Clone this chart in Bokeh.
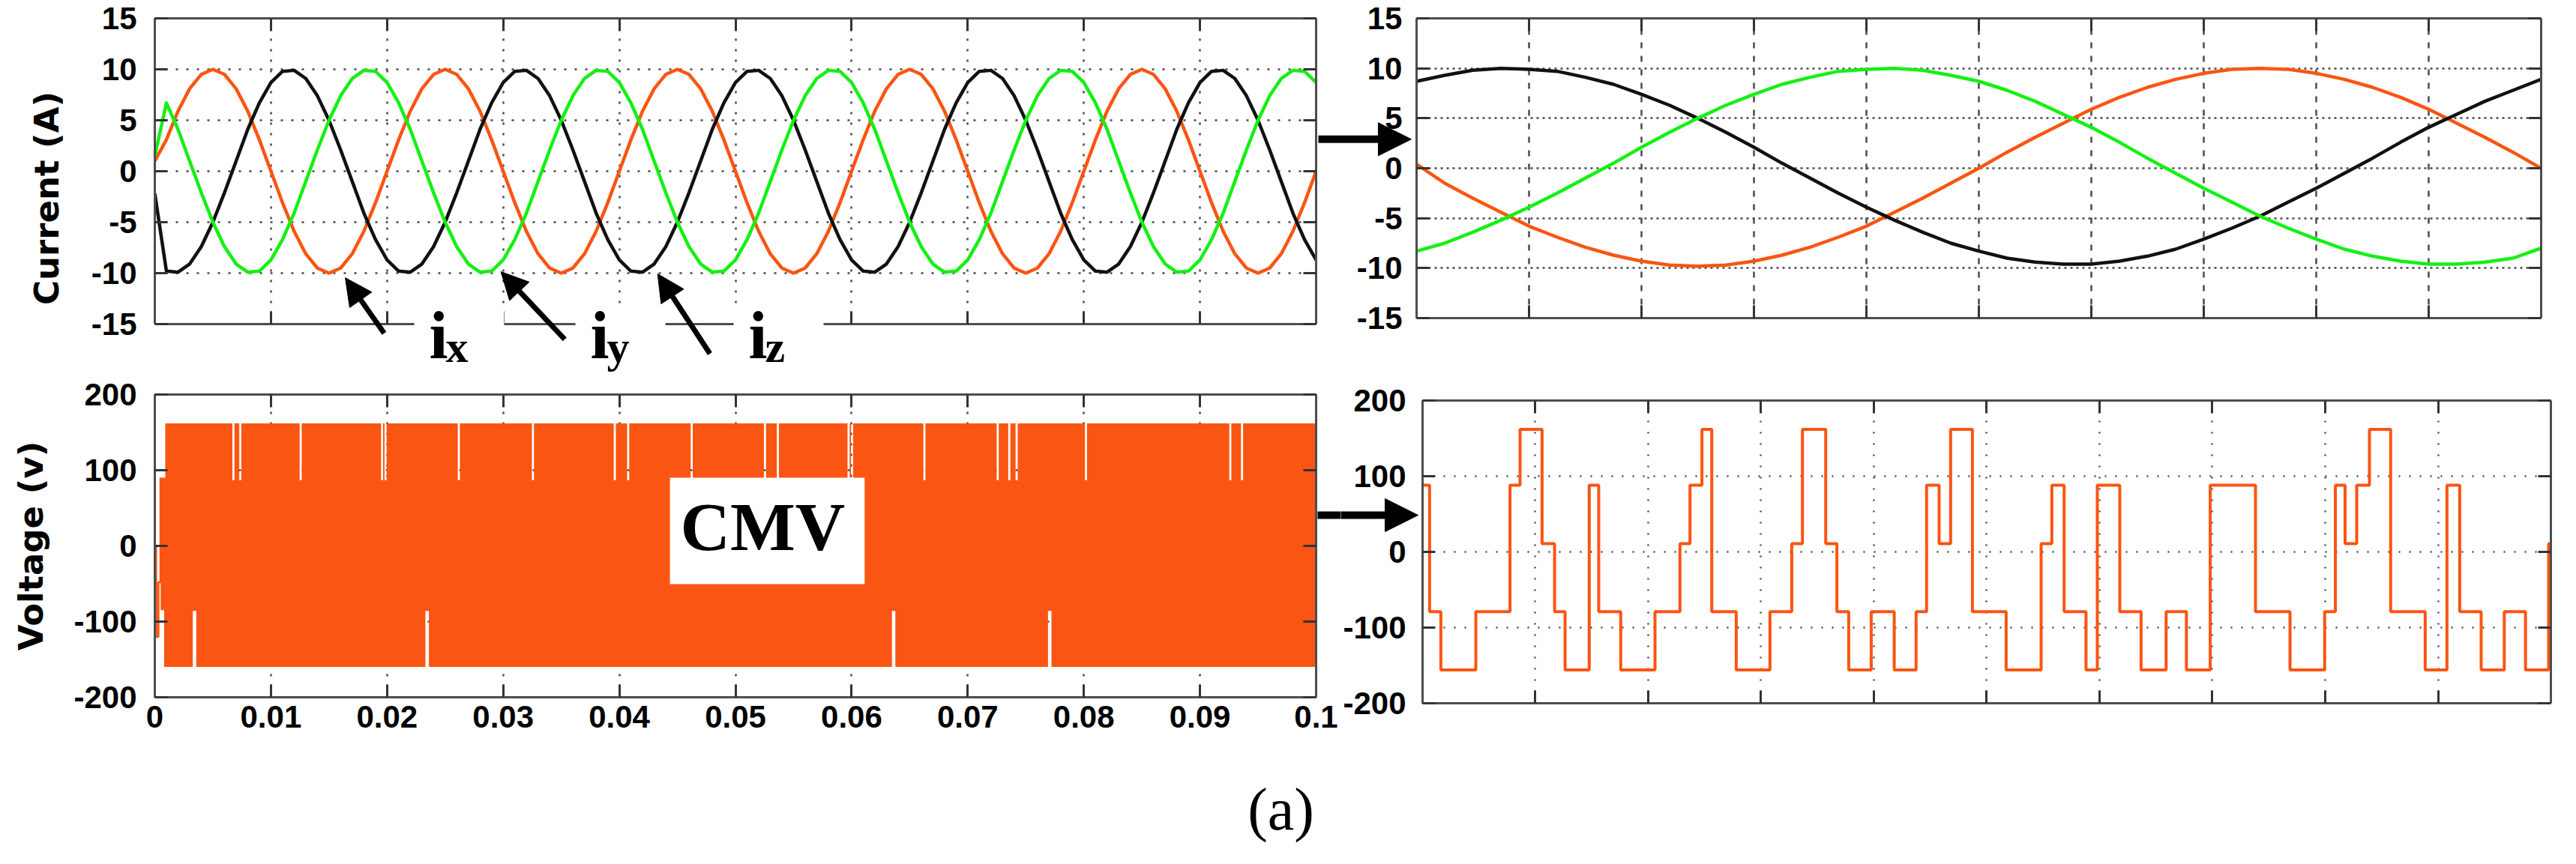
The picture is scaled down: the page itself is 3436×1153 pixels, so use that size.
import math
from bokeh.plotting import figure
from bokeh.layouts import column, row
from bokeh.models import (Range1d, FixedTicker, LinearAxis, Grid, Label, Arrow,
                          NormalHead, CustomJSTickFormatter, BoxAnnotation)
from bokeh.embed import file_html
from bokeh.resources import INLINE

# ============================ DATA ============================
# Top-left: phase currents (A) sampled every 1 ms, 0 ... 0.1 s
t_cur = [
    0.000, 0.001, 0.002, 0.003, 0.004, 0.005, 0.006, 0.007, 0.008, 0.009,
    0.010, 0.011, 0.012, 0.013, 0.014, 0.015, 0.016, 0.017, 0.018, 0.019,
    0.020, 0.021, 0.022, 0.023, 0.024, 0.025, 0.026, 0.027, 0.028, 0.029,
    0.030, 0.031, 0.032, 0.033, 0.034, 0.035, 0.036, 0.037, 0.038, 0.039,
    0.040, 0.041, 0.042, 0.043, 0.044, 0.045, 0.046, 0.047, 0.048, 0.049,
    0.050, 0.051, 0.052, 0.053, 0.054, 0.055, 0.056, 0.057, 0.058, 0.059,
    0.060, 0.061, 0.062, 0.063, 0.064, 0.065, 0.066, 0.067, 0.068, 0.069,
    0.070, 0.071, 0.072, 0.073, 0.074, 0.075, 0.076, 0.077, 0.078, 0.079,
    0.080, 0.081, 0.082, 0.083, 0.084, 0.085, 0.086, 0.087, 0.088, 0.089,
    0.090, 0.091, 0.092, 0.093, 0.094, 0.095, 0.096, 0.097, 0.098, 0.099,
    0.100]
i_x = [
    1.0, 3.1, 5.9, 8.1, 9.5, 10.0, 9.5, 8.1, 5.9, 3.1, 0.0, -3.1, -5.9, -8.1, -9.5, -10.0, -9.5, -8.1, -5.9, -3.1,
    0.0, 3.1, 5.9, 8.1, 9.5, 10.0, 9.5, 8.1, 5.9, 3.1, 0.0, -3.1, -5.9, -8.1, -9.5, -10.0, -9.5, -8.1, -5.9, -3.1,
    0.0, 3.1, 5.9, 8.1, 9.5, 10.0, 9.5, 8.1, 5.9, 3.1, 0.0, -3.1, -5.9, -8.1, -9.5, -10.0, -9.5, -8.1, -5.9, -3.1,
    0.0, 3.1, 5.9, 8.1, 9.5, 10.0, 9.5, 8.1, 5.9, 3.1, 0.0, -3.1, -5.9, -8.1, -9.5, -10.0, -9.5, -8.1, -5.9, -3.1,
    0.0, 3.1, 5.9, 8.1, 9.5, 10.0, 9.5, 8.1, 5.9, 3.1, 0.0, -3.1, -5.9, -8.1, -9.5, -10.0, -9.5, -8.1, -5.9, -3.1,
    0.0]
i_y = [
    1.5, 6.7, 4.1, 1.0, -2.1, -5.0, -7.4, -9.1, -9.9, -9.8, -8.7, -6.7, -4.1, -1.0, 2.1, 5.0, 7.4, 9.1, 9.9, 9.8,
    8.7, 6.7, 4.1, 1.0, -2.1, -5.0, -7.4, -9.1, -9.9, -9.8, -8.7, -6.7, -4.1, -1.0, 2.1, 5.0, 7.4, 9.1, 9.9, 9.8,
    8.7, 6.7, 4.1, 1.0, -2.1, -5.0, -7.4, -9.1, -9.9, -9.8, -8.7, -6.7, -4.1, -1.0, 2.1, 5.0, 7.4, 9.1, 9.9, 9.8,
    8.7, 6.7, 4.1, 1.0, -2.1, -5.0, -7.4, -9.1, -9.9, -9.8, -8.7, -6.7, -4.1, -1.0, 2.1, 5.0, 7.4, 9.1, 9.9, 9.8,
    8.7, 6.7, 4.1, 1.0, -2.1, -5.0, -7.4, -9.1, -9.9, -9.8, -8.7, -6.7, -4.1, -1.0, 2.1, 5.0, 7.4, 9.1, 9.9, 9.8,
    8.7]
i_z = [
    -2.2, -9.8, -9.9, -9.1, -7.4, -5.0, -2.1, 1.0, 4.1, 6.7, 8.7, 9.8, 9.9, 9.1, 7.4, 5.0, 2.1, -1.0, -4.1, -6.7,
    -8.7, -9.8, -9.9, -9.1, -7.4, -5.0, -2.1, 1.0, 4.1, 6.7, 8.7, 9.8, 9.9, 9.1, 7.4, 5.0, 2.1, -1.0, -4.1, -6.7,
    -8.7, -9.8, -9.9, -9.1, -7.4, -5.0, -2.1, 1.0, 4.1, 6.7, 8.7, 9.8, 9.9, 9.1, 7.4, 5.0, 2.1, -1.0, -4.1, -6.7,
    -8.7, -9.8, -9.9, -9.1, -7.4, -5.0, -2.1, 1.0, 4.1, 6.7, 8.7, 9.8, 9.9, 9.1, 7.4, 5.0, 2.1, -1.0, -4.1, -6.7,
    -8.7, -9.8, -9.9, -9.1, -7.4, -5.0, -2.1, 1.0, 4.1, 6.7, 8.7, 9.8, 9.9, 9.1, 7.4, 5.0, 2.1, -1.0, -4.1, -6.7,
    -8.7]

# Top-right: zoom on one period (x in grid divisions, 0 ... 10)
x_zoom = [0.0, 0.25, 0.5, 0.75, 1.0, 1.25, 1.5, 1.75, 2.0, 2.25, 2.5, 2.75, 3.0, 3.25,
          3.5, 3.75, 4.0, 4.25, 4.5, 4.75, 5.0, 5.25, 5.5, 5.75, 6.0, 6.25, 6.5, 6.75,
          7.0, 7.25, 7.5, 7.75, 8.0, 8.25, 8.5, 8.75, 9.0, 9.25, 9.5, 9.75, 10.0]
ix_zoom = [0.4, -1.5, -3.0, -4.4, -5.8, -6.9, -7.9, -8.7, -9.3, -9.7, -9.8, -9.7, -9.3, -8.7,
           -7.9, -6.9, -5.8, -4.4, -3.0, -1.5, 0.0, 1.6, 3.1, 4.5, 5.9, 7.1, 8.1, 8.9,
           9.5, 9.9, 10.0, 9.9, 9.5, 8.9, 8.1, 7.1, 5.9, 4.5, 3.1, 1.6, 0.0]
iz_zoom = [8.7, 9.3, 9.8, 10.0, 9.9, 9.7, 9.1, 8.4, 7.4, 6.3, 5.0, 3.6, 2.1, 0.5,
           -1.0, -2.5, -3.9, -5.2, -6.4, -7.5, -8.3, -9.0, -9.4, -9.6, -9.6, -9.3, -8.8, -8.1,
           -7.1, -6.0, -4.8, -3.4, -2.0, -0.5, 1.0, 2.6, 4.1, 5.4, 6.7, 7.8, 8.9]
iy_zoom = [-8.3, -7.5, -6.4, -5.2, -3.9, -2.5, -1.0, 0.5, 2.1, 3.6, 5.0, 6.3, 7.4, 8.4,
           9.1, 9.7, 9.9, 10.0, 9.8, 9.3, 8.7, 7.8, 6.7, 5.4, 4.1, 2.6, 1.0, -0.5,
           -2.0, -3.4, -4.8, -6.0, -7.1, -8.1, -8.8, -9.3, -9.6, -9.6, -9.4, -9.0, -8.0]

# Bottom-left: common-mode voltage envelope (V)
cmv_high = 162
cmv_low = -160
cmv_top_gap_floor = 87
cmv_bottom_gap_ceiling = -86
cmv_band_start_hi = 0.0009
cmv_band_start_lo = 0.0008
cmv_pre_t = 0.0005
cmv_pre_hi = 90
cmv_pre_lo = -85
cmv_top_gap_t = [0.00668, 0.00727, 0.01247, 0.01948, 0.01978, 0.02609, 0.03247, 0.03952,
                 0.04067, 0.04614, 0.05245, 0.05356, 0.05965, 0.05995, 0.06618, 0.07249,
                 0.07349, 0.07412, 0.08009, 0.09252, 0.09353]
cmv_bottom_gap_t = [0.00327, 0.02330, 0.06347, 0.07691]
cmv_top_gap_w = 0.00018
cmv_bottom_gap_w = 0.0003
cmv_start_t = [0.0, 0.0001, 0.0003, 0.0005]
cmv_start_v = [0, -120, -48, 90]

# Bottom-right: zoom on CMV staircase (x in grid divisions)
cmv_zoom_x = [0.0, 0.062, 0.162, 0.472, 0.775, 0.864, 1.059, 1.170, 1.263, 1.477, 1.561, 1.756,
              2.060, 2.281, 2.370, 2.476, 2.563, 2.780, 3.079, 3.272, 3.367, 3.573, 3.672, 3.777,
              3.976, 4.180, 4.374, 4.467, 4.578, 4.680, 4.873, 5.172, 5.482, 5.577, 5.686, 5.880,
              5.980, 6.179, 6.368, 6.590, 6.770, 6.981, 7.382, 7.688, 7.995, 8.090, 8.176, 8.279,
              8.392, 8.580, 8.886, 9.079, 9.192, 9.382, 9.587, 9.775, 9.980, 10.0]
cmv_zoom_v = [88, -79, -156, -79, 88, 162, 11, -79, -156, 88, -79, -156,
              -79, 11, 88, 162, -79, -156, -79, 11, 162, 11, -79, -156,
              -79, -156, -79, 88, 11, 162, -79, -156, 11, 88, -79, -156,
              88, -79, -156, -79, -156, 88, -79, -156, -79, 88, 11, 88,
              162, -79, -156, 88, -79, -156, -79, -156, 11, 11]

# Ticks and tick labels
cur_ticks = [-15, -10, -5, 0, 5, 10, 15]
cur_tick_labels = ["-15", "-10", "-5", "0", "5", "10", "15"]
volt_ticks = [-200, -100, 0, 100, 200]
volt_tick_labels = ["-200", "-100", "0", "100", "200"]
time_ticks = [0, 0.01, 0.02, 0.03, 0.04, 0.05, 0.06, 0.07, 0.08, 0.09, 0.1]
time_tick_labels = ["0", "0.01", "0.02", "0.03", "0.04", "0.05", "0.06", "0.07", "0.08", "0.09", "0.1"]
div_ticks = [0, 1, 2, 3, 4, 5, 6, 7, 8, 9, 10]
cur_grid = [-10, -5, 0, 5, 10]
volt_grid = [-100, 0, 100]
time_grid = [0.01, 0.02, 0.03, 0.04, 0.05, 0.06, 0.07, 0.08, 0.09]
div_grid = [1, 2, 3, 4, 5, 6, 7, 8, 9]

# ============================ STYLE ============================
ORANGE = "#FA5512"
GREEN = "#14F014"
BLACK = "#111111"
FRAME = "#4d4d4d"
TICKC = "#333333"
GRIDC = "#4a4a4a"
TICK_FONT = "Liberation Sans"
SERIF = "Liberation Serif"
TITLE_FONT = "DejaVu Sans"


def make_fig(w, h, xr, yr, left, right, top, bottom):
    p = figure(width=w, height=h, x_range=Range1d(*xr), y_range=Range1d(*yr),
               x_axis_type=None, y_axis_type=None,
               output_backend="svg", toolbar_location=None,
               min_border_left=left, min_border_right=right,
               min_border_top=top, min_border_bottom=bottom)
    p.frame_align = False
    p.outline_line_color = None
    p.background_fill_color = "white"
    p.border_fill_color = "white"
    return p


def add_axis(p, side, ticks, labels=None, standoff=20, title=None, title_standoff=30,
             bounds=None, fixed=None):
    ax = LinearAxis(ticker=FixedTicker(ticks=ticks))
    if bounds is not None:
        ax.bounds = bounds
    if fixed is not None:
        ax.fixed_location = fixed
    ax.axis_line_color = FRAME
    ax.axis_line_width = 3
    ax.major_tick_in = 17
    ax.major_tick_out = 0
    ax.major_tick_line_color = TICKC
    ax.major_tick_line_width = 3
    ax.minor_tick_line_color = None
    if labels is not None:
        ax.major_label_overrides = dict(zip(ticks, labels))
        ax.major_label_text_font = TICK_FONT
        ax.major_label_text_font_style = "bold"
        ax.major_label_text_font_size = "42px"
        ax.major_label_text_color = "black"
        ax.major_label_text_line_height = 0.8
        ax.major_label_standoff = standoff
    else:
        ax.formatter = CustomJSTickFormatter(code="return ''")
        ax.major_label_text_color = None
        ax.major_label_text_font_size = "1px"
        ax.major_label_standoff = 0
    if title:
        ax.axis_label = title
        ax.axis_label_text_font = TITLE_FONT
        ax.axis_label_text_font_style = "bold"
        ax.axis_label_text_font_size = "45px"
        ax.axis_label_text_color = "black"
        ax.axis_label_standoff = title_standoff
    p.add_layout(ax, side)
    return ax


def add_grid(p, dim, ticks, dash, cross=None, width=2.5):
    g = Grid(dimension=dim, ticker=FixedTicker(ticks=ticks))
    if cross is not None:
        g.cross_bounds = cross
    g.grid_line_color = GRIDC
    g.grid_line_width = width
    g.grid_line_dash = dash
    p.add_layout(g)


def add_arrow(p, xs, ys, xe, ye, lw, head):
    end = NormalHead(size=head, fill_color="black", line_color="black", line_width=1) if head else None
    p.add_layout(Arrow(x_start=xs, y_start=ys, x_end=xe, y_end=ye, line_width=lw,
                       line_color="black", end=end))


def add_text(p, x, y, text, font, size, style="bold", align="left", baseline="alphabetic",
             bg=None, pad=0, angle=0.0):
    lab = Label(x=x, y=y, text=text, text_font=font, text_font_size=size, text_font_style=style,
                text_color="black", text_align=align, text_baseline=baseline, angle=angle)
    if bg is not None:
        lab.background_fill_color = bg
        lab.background_fill_alpha = 1.0
        lab.padding = pad
    p.add_layout(lab)


# ============================ TOP-LEFT ============================
# frame extends below -15 so the i_x / i_y / i_z call-outs stay inside it
p1 = make_fig(1758, 504, (0, 0.1), (-20.29, 15), 206, 3, 24, 0)
add_grid(p1, 0, time_grid, "3 11", cross=(-15, 15))
add_grid(p1, 1, cur_grid, "3 11")
p1.line(t_cur, i_x, line_color=ORANGE, line_width=4.5, line_join="round")
p1.line(t_cur, i_z, line_color=BLACK, line_width=4.5, line_join="round")
p1.line(t_cur, i_y, line_color=GREEN, line_width=4.5, line_join="round")
add_axis(p1, "left", cur_ticks, cur_tick_labels, standoff=24, title="Current (A)",
         title_standoff=30, bounds=(-15, 15))
add_axis(p1, "below", time_ticks, bounds=(0, 0.1), fixed=-15)
add_axis(p1, "above", time_ticks, bounds=(0, 0.1))
add_axis(p1, "right", cur_ticks, bounds=(-15, 15))

# white boxes behind the call-out labels (they interrupt the bottom frame line)
for (bl, br) in [(0.02234, 0.03008), (0.03622, 0.04396), (0.04984, 0.05759)]:
    p1.add_layout(BoxAnnotation(left=bl, right=br, top=-13.2, bottom=-20.29,
                                fill_color="white", fill_alpha=1.0, line_color=None))
for (xs, ys, xe, ye) in [(0.01975, -15.9, 0.0164, -10.45),
                         (0.0353, -16.5, 0.0298, -9.85),
                         (0.0478, -17.9, 0.0433, -10.07)]:
    add_arrow(p1, xs, ys, xe, ye, 7, 36)
for (xi, sub, xs) in [(0.02363, "x", 0.02505), (0.03751, "y", 0.03893), (0.05113, "z", 0.05255)]:
    add_text(p1, xi, -16.1, "i", SERIF, "90px")
    add_text(p1, xs, -17.27, sub, SERIF, "60px")

# ============================ TOP-RIGHT ============================
# frame covers the whole canvas height and the strip left of x=0 (tick labels, arrow)
p2 = make_fig(1662, 504, (-0.8733, 10), (-21.0, 16.8), 0, 31, 0, 0)
add_grid(p2, 0, div_grid, "8 10", cross=(-15, 15))
add_grid(p2, 1, cur_grid, "3 5", cross=(0, 10))
p2.line(x_zoom, ix_zoom, line_color=ORANGE, line_width=4.5, line_join="round")
p2.line(x_zoom, iz_zoom, line_color=BLACK, line_width=4.5, line_join="round")
p2.line(x_zoom, iy_zoom, line_color=GREEN, line_width=4.5, line_join="round")
add_axis(p2, "left", cur_ticks, cur_tick_labels, standoff=19, fixed=0, bounds=(-15, 15))
add_axis(p2, "below", div_ticks, bounds=(0, 10), fixed=-15)
add_axis(p2, "above", div_ticks, bounds=(0, 10), fixed=15)
add_axis(p2, "right", cur_ticks, bounds=(-15, 15))
add_arrow(p2, -0.88, 2.9, -0.047, 2.9, 10, 44)

# ============================ BOTTOM-LEFT ============================
p3 = make_fig(1788, 633, (-0.0132989, 0.10213), (-404.95, 221.78), 0, 0, 0, 0)
add_grid(p3, 0, time_grid, "3 11", cross=(-200, 200))
add_grid(p3, 1, volt_grid, "3 11", cross=(0, 0.1))


def band_edge(t0, t1, level, gaps, gap_level, w):
    xs, ys = [t0], [level]
    for g in gaps:
        xs += [g, g, g + w, g + w]
        ys += [level, gap_level, gap_level, level]
    xs.append(t1)
    ys.append(level)
    return xs, ys


ux, uy = band_edge(cmv_band_start_hi, 0.1, cmv_high, cmv_top_gap_t, cmv_top_gap_floor, cmv_top_gap_w)
lx, ly = band_edge(cmv_band_start_lo, 0.1, cmv_low, cmv_bottom_gap_t, cmv_bottom_gap_ceiling, cmv_bottom_gap_w)
poly_x = [cmv_pre_t, cmv_band_start_hi] + ux + lx[::-1] + [cmv_band_start_lo, cmv_pre_t]
poly_y = [cmv_pre_hi, cmv_pre_hi] + uy + ly[::-1] + [cmv_pre_lo, cmv_pre_lo]
p3.patch(poly_x, poly_y, fill_color=ORANGE, line_color=None)
p3.step(cmv_start_t, cmv_start_v, mode="after", line_color=ORANGE, line_width=3)
add_axis(p3, "left", volt_ticks, volt_tick_labels, standoff=24, bounds=(-200, 200), fixed=0)
add_axis(p3, "below", time_ticks, time_tick_labels, standoff=12, bounds=(0, 0.1), fixed=-200)
add_axis(p3, "above", time_ticks, bounds=(0, 0.1), fixed=200)
add_axis(p3, "right", volt_ticks, bounds=(-200, 200), fixed=0.1)
add_text(p3, -0.010652, 0, "Voltage (v)", TITLE_FONT, "45px", align="center", baseline="middle",
         angle=math.pi / 2)
add_text(p3, 0.05274, 19.8, "CMV", SERIF, "92px", align="center", baseline="middle",
         bg="white", pad=(14, 26, 14, 26))
add_text(p3, 0.09697, -348.5, "(a)", SERIF, "80px", style="normal", align="center",
         baseline="middle")
add_arrow(p3, 0.10013, 40.6, 0.1025, 40.6, 10, None)

# ============================ BOTTOM-RIGHT ============================
p4 = make_fig(1632, 633, (-0.72425, 10), (-397.03, 229.70), 0, 18, 0, 0)
add_grid(p4, 0, div_grid, "2 13", cross=(-200, 200))
add_grid(p4, 1, volt_grid, "2 12", cross=(0, 10))
p4.step(cmv_zoom_x, cmv_zoom_v, mode="after", line_color=ORANGE, line_width=4)
add_axis(p4, "left", volt_ticks, volt_tick_labels, standoff=22, fixed=0, bounds=(-200, 200))
add_axis(p4, "below", div_ticks, bounds=(0, 10), fixed=-200)
add_axis(p4, "above", div_ticks, bounds=(0, 10), fixed=200)
add_axis(p4, "right", volt_ticks, bounds=(-200, 200))
add_arrow(p4, -0.73, 48.5, -0.04, 48.5, 10, 44)

layout = column(row(p1, p2), row(p3, p4))
open("out.html", "w").write(file_html(layout, INLINE))
